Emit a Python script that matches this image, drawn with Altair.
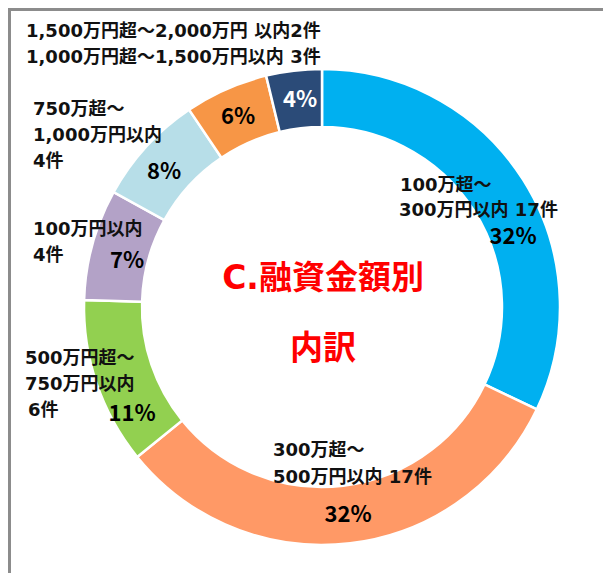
import altair as alt
import pandas as pd

# ---- data ----
categories = [
    "100万超～300万円以内",
    "300万超～500万円以内",
    "500万円超～750万円以内",
    "100万円以内",
    "750万超～1,000万円以内",
    "1,000万円超～1,500万円以内",
    "1,500万円超～2,000万円以内",
]
counts = [17, 17, 6, 4, 4, 3, 2]
pct_labels = ["32%", "32%", "11%", "7%", "8%", "6%", "4%"]
colors = ["#00B0F0", "#FF9966", "#92D050", "#B3A2C7", "#B7DEE8", "#F79646", "#2B4B78"]
pct_colors = ["#000000"] * 6 + ["#FFFFFF"]

label_lines = [
    "1,500万円超～2,000万円 以内2件",
    "1,000万円超～1,500万円以内 3件",
    "750万超～", "1,000万円以内", "4件",
    "100万円以内", "4件",
    "500万円超～", "750万円以内", "6件",
    "100万超～", "300万円以内 17件",
    "300万超～", "500万円以内 17件",
]
title_lines = ["C.融資金額別", "内訳"]

# ---- layout (pixels inside the view) ----
W, H = 595, 565
CX, CY = 314, 299
R_OUT, R_IN = 238, 180
FONT = "DejaVu Sans, Noto Sans CJK JP"
label_xy = [
    (18, 24), (18, 50),
    (25, 102), (25, 128), (25, 154),
    (25, 222), (25, 248),
    (17, 351), (17, 377), (20, 403),
    (392, 178), (391, 203),
    (265, 443), (265, 470),
]
pct_xy = [(505, 229), (340, 507), (124, 406), (119, 253), (156, 164), (230, 109), (292, 92)]
title_xy = [(315, 271), (315, 341)]

df = pd.DataFrame({
    "category": categories,
    "count": counts,
    "order": list(range(len(categories))),
})

arcs = alt.Chart(df).mark_arc(
    outerRadius=R_OUT, innerRadius=R_IN, stroke="white", strokeWidth=2.5
).encode(
    theta=alt.Theta("count:Q", stack=True),
    order=alt.Order("order:Q"),
    color=alt.Color("category:N", scale=alt.Scale(domain=categories, range=colors), legend=None),
    x=alt.value(CX),
    y=alt.value(CY),
)

lab_df = pd.DataFrame({
    "t": label_lines,
    "x": [p[0] for p in label_xy],
    "y": [p[1] for p in label_xy],
})
labels = alt.Chart(lab_df).mark_text(
    align="left", baseline="middle", font=FONT, fontSize=18,
    fontWeight="bold", color="#111111"
).encode(
    x=alt.X("x:Q", scale=None, axis=None),
    y=alt.Y("y:Q", scale=None, axis=None),
    text="t:N",
)

pct_df = pd.DataFrame({
    "t": pct_labels,
    "c": pct_colors,
    "x": [p[0] for p in pct_xy],
    "y": [p[1] for p in pct_xy],
})
pcts = alt.Chart(pct_df).mark_text(
    align="center", baseline="middle", font="Noto Sans CJK JP", fontSize=22,
    fontWeight="bold"
).encode(
    x=alt.X("x:Q", scale=None, axis=None),
    y=alt.Y("y:Q", scale=None, axis=None),
    text="t:N",
    color=alt.Color("c:N", scale=None),
)

tdf = pd.DataFrame({
    "t": title_lines,
    "x": [p[0] for p in title_xy],
    "y": [p[1] for p in title_xy],
})
titles = alt.Chart(tdf).mark_text(
    align="center", baseline="middle", font=FONT, fontSize=33,
    fontWeight="bold", color="#FF0000"
).encode(
    x=alt.X("x:Q", scale=None, axis=None),
    y=alt.Y("y:Q", scale=None, axis=None),
    text="t:N",
)

frame_left = alt.Chart(df).mark_rule(color="#8C8C8C", strokeWidth=3).encode(
    x=alt.value(1), y=alt.value(0), y2=alt.value(H)
)
frame_top = alt.Chart(df).mark_rule(color="#8C8C8C", strokeWidth=3).encode(
    x=alt.value(0), x2=alt.value(W), y=alt.value(1.5)
)

chart = alt.layer(arcs, frame_left, frame_top, labels, pcts, titles).properties(
    width=W, height=H, padding=0, autosize=alt.AutoSizeParams(type="none"),
    background="white",
).configure_view(strokeWidth=0)

chart.save("out.html", embed_options={"renderer": "svg", "actions": False})
